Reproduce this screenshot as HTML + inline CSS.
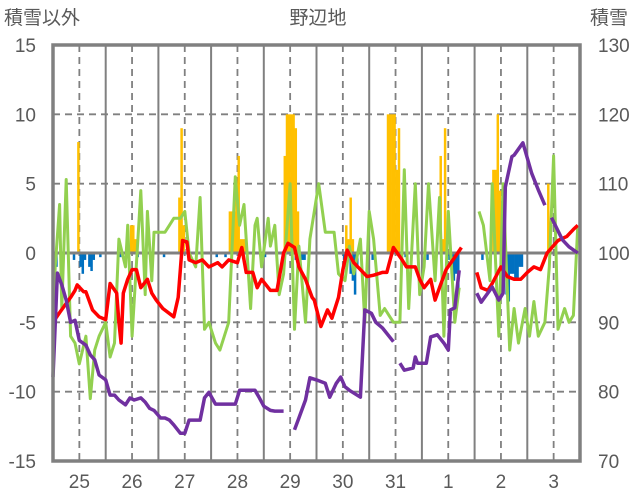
<!DOCTYPE html>
<html><head><meta charset="utf-8"><style>
html,body{margin:0;padding:0;background:#fff;width:636px;height:501px;overflow:hidden}
text{font-family:"Liberation Sans","Noto Sans CJK JP",sans-serif;fill:#595959}
</style></head><body>
<svg id="chart" width="636" height="501" viewBox="0 0 636 501">
<text x="4" y="24" font-size="19">積雪以外</text>
<text x="318" y="24" font-size="19" text-anchor="middle">野辺地</text>
<text x="590" y="24" font-size="19">積雪</text>
<g id="grid"></g><g id="bars"></g><g id="lines"></g><g id="axes"></g>
</svg>
<script>
const dayLabels=["25","26","27","28","29","30","31","1","2","3"];
const leftTicks=[15,10,5,0,-5,-10,-15];
const rightTicks=[130,120,110,100,90,80,70];
const snowHours=[11,35,36,37,57,58,59,80,81,82,83,84,85,86,87,105,106,107,108,109,110,111,133,134,135,136,152,153,154,155,156,157,176,177,178,200,201,202,203,225,226];
const snowVals=[8,2,2,1,4,9,2,3,3,3,5,7,1,1,1,7,10,10,10,10,9,3,2,1,4,1,10,10,10,10,6,9,7,1,9,6,6,10,4.5,5,1];
const meltHours=[0,1,3,9,12,13,14,16,17,18,21,30,38,50,74,78,95,96,110,111,112,113,114,132,133,135,136,137,138,145,160,170,180,181,182,183,184,195,205,206,207,208,209,210,211,212,213];
const meltVals=[-1.5,-1,-0.5,-0.5,-1,-1.5,-0.5,-1,-1.3,-0.5,-0.3,-0.3,-0.3,-0.3,-0.3,-0.3,-0.3,-0.3,-0.5,-0.5,-0.5,-0.5,-0.5,-0.5,-1,-1.5,-2,-3,-1,-0.5,-0.3,-0.5,-0.5,-1.5,-2,-1.5,-3,-0.5,-1,-3,-3.5,-1.5,-1.5,-2,-2,-1,-1];
const tempHours=[0,3,8,10,11,14,15,18,21,24,26,29,30,31,32,34,36,38,40,43,45,47,50,55,57,59,61,62,65,68,71,75,77,80,84,86,88,91,93,95,99,102,105,107,110,112,115,118,119,122,125,127,130,132,134,137,140,143,146,150,152,155,159,161,165,167,169,172,174,176,179,183,186,null,193,195,198,200,204,207,210,213,216,219,222,225,230,234,237,239];
const tempVals=[-5,-4.3,-3.2,-2.7,-2.3,-2.8,-2.8,-4.1,-4.6,-4.8,-2.2,-2.9,-5,-6.5,-2.9,-1.9,-1.2,-1.2,-2.5,-1.9,-2.9,-3.4,-4,-4.6,-3.2,0.9,0.8,-0.5,-0.7,-0.5,-1,-0.7,-1,-0.5,-0.7,0.4,-1.4,-1.4,-2.5,-1.9,-2.7,-2.7,0,0.7,0.4,-1,-1.9,-3.2,-3.4,-5.3,-4.1,-4.7,-3.2,-1.2,0.2,-0.7,-1.2,-1.7,-1.6,-1.4,-1.4,0.4,-0.5,-1,-1,-1.9,-2.5,-1.9,-3.4,-2.5,-1.2,-0.3,0.4,null,-1.4,-2.5,-2.7,-2.2,-1,-1.7,-1.9,-1.9,-1.4,-1,-1.2,0,0.9,1.2,1.7,2];
const greenHours=[0,1,3,4,6,8,10,12,15,17,19,21,24,26,28,30,33,34,36,40,42,43,45,46,49,51,53,55,58,60,62,65,67,69,71,74,76,78,80,83,85,87,90,92,93,95,98,99,101,103,105,108,110,112,115,117,119,121,124,126,128,130,133,135,137,140,142,144,146,149,151,153,155,158,160,162,165,167,169,171,174,176,178,180,183,185,null,194,196,199,200,203,205,208,210,212,215,217,219,221,224,226,228,230,233,235,237,239];
const greenVals=[-5,-1,3.5,-4,5.3,-6,-6.5,-8,-6,-10.5,-7,-6,-5,-7.5,-6.5,1,-1,2,-6,4.5,-3,3,-2,1.5,1.5,1.5,2,2.5,2.5,3,0,-1,4,-5.5,-5,-6.5,-7,-6,-5,5.5,2,3.5,-4,2,2.5,-1,2.5,0.5,2,-3,-1.5,5,-5.5,0.5,-5,1,3,5,1.5,1.5,1.5,-1.5,-2,0.5,-1.5,1,-5,3,1,-4.5,-4,-4.5,-5,-5,6,-4,5,-3,-1,5,-2,4,-6,3,-5,-2.5,null,3,2,-2,5,-6,5,-7,-4,-6.5,-4,-6,-3.5,-6,-5,-1,7,-5.5,-4,-5,-4.5,2];
const depthHours=[0,2,4,6,8,10,12,15,17,19,21,24,26,28,30,33,35,37,40,42,44,46,49,51,53,55,58,60,62,65,67,69,71,74,76,78,80,83,85,87,90,92,94,96,99,101,105,null,110,112,115,117,120,124,126,129,131,133,135,140,142,145,147,150,155,null,158,160,164,165,166,170,172,175,178,180,181,183,185,null,193,195,200,203,205,206,209,210,214,218,221,224,null,227,232,235,239];
const depthVals=[82.1,97.1,95.4,93.2,90,90.3,87.4,86.7,85.3,84.6,82.4,81.7,79.5,79.5,78.8,78.1,79.1,78.8,79.1,78.5,77.6,77.3,76.2,76.2,75.9,75.2,74,74,75.9,75.9,75.9,79.1,79.9,78.2,78.2,78.2,78.2,78.2,80.2,80.2,80.2,80.2,79.1,77.9,77.3,77.2,77.2,null,74.5,76.2,78.8,82,81.7,81.2,79.2,81.2,82.1,80.7,80.2,79.2,91.8,91.3,90,89.2,87.2,null,84.1,83.1,83.4,85,84.1,84.1,87.9,88.2,87,86,91.8,92.1,97.5,null,94.2,92.9,95.1,93.2,94.2,109.5,113.9,114.1,115.9,111.5,109.1,106.9,null,105.1,101.9,100.9,100];

const NS="http://www.w3.org/2000/svg";
const X0=53,X1=580,Y0=45,Y1=461,H=240;
const xs=h=>X0+(h/H)*(X1-X0);
const yl=v=>Y1-(v+15)/30*(Y1-Y0);
const yr=v=>Y1-(v-70)/60*(Y1-Y0);
function mk(tag,attrs,parent){const e=document.createElementNS(NS,tag);for(const k in attrs)e.setAttribute(k,attrs[k]);parent.appendChild(e);return e;}
const grid=document.getElementById('grid'),bars=document.getElementById('bars'),lines=document.getElementById('lines'),axes=document.getElementById('axes');
leftTicks.forEach((v,i)=>{
  if(v!==0&&v!==15&&v!==-15){const l=mk('line',{x1:X0,x2:X1,y1:yl(v),y2:yl(v),stroke:'#808080','stroke-width':1.8,'stroke-dasharray':'7,5'},grid);
  
  }
  const t=mk('text',{x:36,y:yl(v)+7,'font-size':19,'text-anchor':'end'},axes);t.textContent=v;
  
  
});
rightTicks.forEach(v=>{
  const t=mk('text',{x:598,y:yr(v)+7,'font-size':19},axes);t.textContent=v;
  
  
});
dayLabels.forEach((d,i)=>{
  const xm=xs(12+24*i);
  const l=mk('line',{x1:xm,x2:xm,y1:Y0,y2:Y1,stroke:'#808080','stroke-width':1.8,'stroke-dasharray':'7,5'},grid);
  
  
  if(i<dayLabels.length-1){const xb=xs(24*(i+1));
  const s=mk('line',{x1:xb,x2:xb,y1:Y0,y2:Y1,stroke:'#808080','stroke-width':2},grid);
  
  }
  const t=mk('text',{x:xm,y:488,'font-size':19,'text-anchor':'middle'},axes);t.textContent=d;
  
  
});
const bw=(X1-X0)/H;
snowHours.forEach((h,i)=>{const v=snowVals[i];
  const r=mk('rect',{x:xs(h),y:yl(v),width:bw+0.3,height:yl(0)-yl(v),fill:'#ffc000'},bars);
  
  });
meltHours.forEach((h,i)=>{const v=meltVals[i];
  const r=mk('rect',{x:xs(h),y:yl(0),width:bw+0.3,height:yl(v)-yl(0),fill:'#0070c0'},bars);
  
  });
const zl=mk('line',{x1:X0,x2:X1,y1:yl(0),y2:yl(0),stroke:'#808080','stroke-width':3},bars);


function pathFor(hs,vs,yf){let d='',pen=false;hs.forEach((h,i)=>{if(h===null||vs[i]===null){pen=false;return;}d+=(pen?'L':'M')+xs(h).toFixed(1)+','+yf(vs[i]).toFixed(1);pen=true;});return d;}
const pg=mk('path',{d:pathFor(greenHours,greenVals,yl),fill:'none',stroke:'#92d050','stroke-width':3,'stroke-linejoin':'round'},lines);


const pr=mk('path',{d:pathFor(tempHours,tempVals,yl),fill:'none',stroke:'#ff0000','stroke-width':3.5,'stroke-linejoin':'round'},lines);


const pp=mk('path',{d:pathFor(depthHours,depthVals,yr),fill:'none',stroke:'#7030a0','stroke-width':3.5,'stroke-linejoin':'round'},lines);


const fr=mk('rect',{x:X0,y:Y0,width:X1-X0,height:Y1-Y0,fill:'none',stroke:'#808080','stroke-width':3.5},axes);


</script>
</body></html>
